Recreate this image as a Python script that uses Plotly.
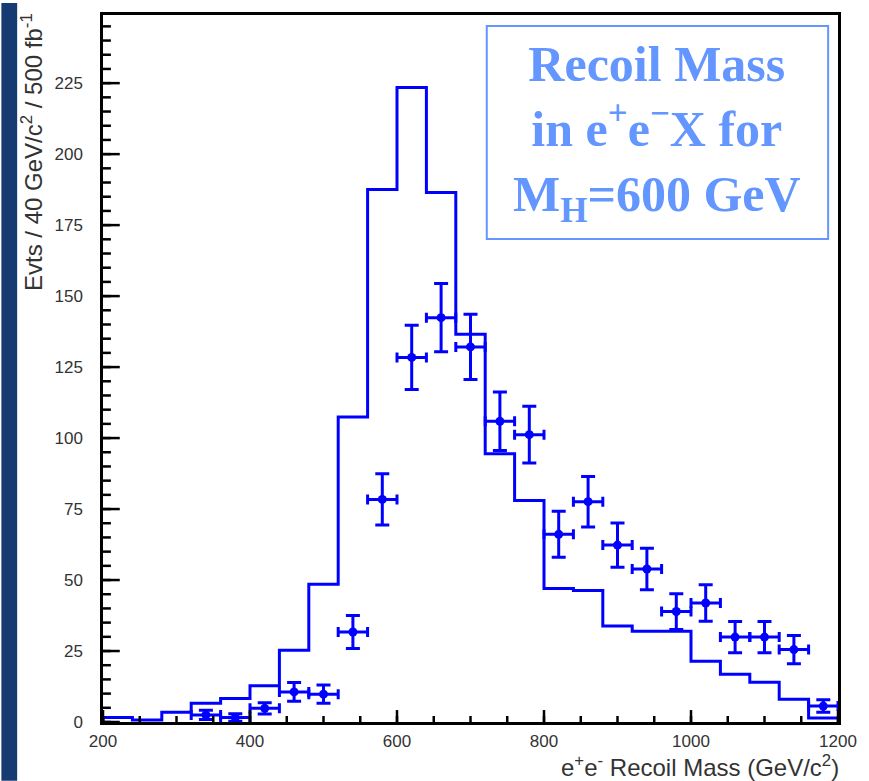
import numpy as np
import plotly.graph_objects as go

# Histogram (MC expectation), 40 GeV bins from 200 to 1200
bin_edges = [200, 240, 280, 320, 360, 400, 440, 480, 520, 560, 600, 640, 680,
             720, 760, 800, 840, 880, 920, 960, 1000, 1040, 1080, 1120, 1160, 1200]
hist_vals = [1.6, 0.7, 3.4, 6.6, 8.3, 12.8, 25.3, 48.5, 107.4, 187.5, 223.5, 186.5, 136.6,
             94.5, 78.0, 47.0, 46.3, 33.8, 32.0, 32.0, 21.4, 16.8, 14.0, 8.0, 1.4]

# Data points (simulated data with errors)
pt_x = [340, 380, 420, 460, 500, 540, 580, 620, 660, 700, 740, 780, 820, 860,
        900, 940, 980, 1020, 1060, 1100, 1140, 1180]
pt_y = [2.5, 1.6, 4.8, 10.6, 9.8, 31.7, 78.4, 128.4, 142.4, 132.1, 105.9, 101.2, 66.1, 77.6,
        62.3, 53.9, 38.9, 41.9, 29.9, 29.9, 25.5, 5.6]
pt_err = [1.6, 1.3, 2.0, 3.3, 3.2, 5.8, 9.0, 11.3, 12.0, 11.5, 10.3, 10.0, 8.1, 8.9,
          7.8, 7.3, 6.3, 6.4, 5.5, 5.5, 5.0, 2.2]
pt_xerr = [20] * len(pt_x)

X_RANGE = [200, 1200]
Y_RANGE = [0, 249]
X_MAJOR, X_MINOR = 200, 50
Y_MAJOR, Y_MINOR = 25, 5

BLUE = "#0000FF"
BOXBLUE = "#6496FF"

W, H = 869, 781
L, R, T, B = 103, 21, 12, 59
pw, ph = W - L - R, H - T - B

def px(xp):
    return (xp - L) / pw

def py(yp):
    return (H - B - yp) / ph

# step outline
hx = [bin_edges[0]] + bin_edges[:-1] + [bin_edges[-1]]
hy = [0] + hist_vals + [hist_vals[-1]]

fig = go.Figure()
fig.add_trace(go.Scatter(x=hx, y=hy, mode="lines", line=dict(color=BLUE, width=3, shape="hv"),
                         hoverinfo="skip", showlegend=False))
fig.add_trace(go.Scatter(
    x=pt_x, y=pt_y, mode="markers",
    marker=dict(color=BLUE, size=9, symbol="circle"),
    error_y=dict(type="data", array=pt_err, color=BLUE, thickness=3, width=7),
    error_x=dict(type="data", array=pt_xerr, color=BLUE, thickness=3, width=5),
    showlegend=False))

tickfont = dict(family="Liberation Sans, Arial, sans-serif", size=17, color="#333333")

fig.update_xaxes(range=X_RANGE, dtick=X_MAJOR, tick0=X_RANGE[0], ticks="", showline=True,
                 linecolor="black", linewidth=2.5, mirror=True, showgrid=False, zeroline=False,
                 tickfont=tickfont, ticklabelstandoff=2)
fig.update_yaxes(range=Y_RANGE, dtick=Y_MAJOR, tick0=0, ticks="", showline=True,
                 linecolor="black", linewidth=2.5, mirror=True, showgrid=False, zeroline=False,
                 tickfont=tickfont, ticklabelstandoff=14)

shapes = [
    # dark left strip of the slide background
    dict(type="rect", xref="paper", yref="paper", x0=px(0), x1=px(16), y0=py(H), y1=py(0),
         fillcolor="#163a72", line=dict(width=0)),
    # title box
    dict(type="rect", xref="paper", yref="paper", x0=px(492), x1=px(838), y0=py(237), y1=py(23),
         fillcolor="white", line=dict(color=BOXBLUE, width=2)),
]

# inward-pointing axis ticks (lengths in pixels -> paper fractions), positions from axis steps
tick_line = dict(color="black", width=2.5)
for step, length in ((X_MAJOR, 12), (X_MINOR, 6)):
    for v in np.arange(X_RANGE[0], X_RANGE[1] + 1e-9, step):
        shapes.append(dict(type="line", xref="x", yref="paper", x0=float(v), x1=float(v),
                           y0=0, y1=length / ph, line=tick_line))
for step, length in ((Y_MAJOR, 17), (Y_MINOR, 8)):
    for v in np.arange(Y_RANGE[0], Y_RANGE[1] + 1e-9, step):
        shapes.append(dict(type="line", xref="paper", yref="y", x0=0, x1=length / pw,
                           y0=float(v), y1=float(v), line=tick_line))

annotations = [
    dict(text="<b>Recoil Mass<br>in e<sup>+</sup>e<sup>\u2212</sup>X for<br>M<sub>H</sub>=600 GeV</b>",
         xref="paper", yref="paper", x=px(665), y=py(131), xanchor="center", yanchor="middle",
         showarrow=False, align="center",
         font=dict(family="Liberation Serif, Times New Roman, serif", size=50, color=BOXBLUE)),
    dict(text="e<sup>+</sup>e<sup>-</sup> Recoil Mass (GeV/c<sup>2</sup>)",
         xref="paper", yref="paper", x=px(851), y=py(766), xanchor="right", yanchor="middle",
         showarrow=False, font=dict(family="Liberation Sans, Arial, sans-serif", size=24, color="#333333")),
    dict(text="Evts / 40 GeV/c<sup>2</sup> / 500 fb<sup>-1</sup>",
         xref="paper", yref="paper", x=px(31), y=py(8), xanchor="center", yanchor="top",
         textangle=-90, showarrow=False,
         font=dict(family="Liberation Sans, Arial, sans-serif", size=24, color="#333333")),
]

fig.update_layout(width=W, height=H, margin=dict(l=L, r=R, t=T, b=B, pad=0),
                  paper_bgcolor="white", plot_bgcolor="white",
                  shapes=shapes, annotations=annotations, showlegend=False)

fig.write_html("out.html")
